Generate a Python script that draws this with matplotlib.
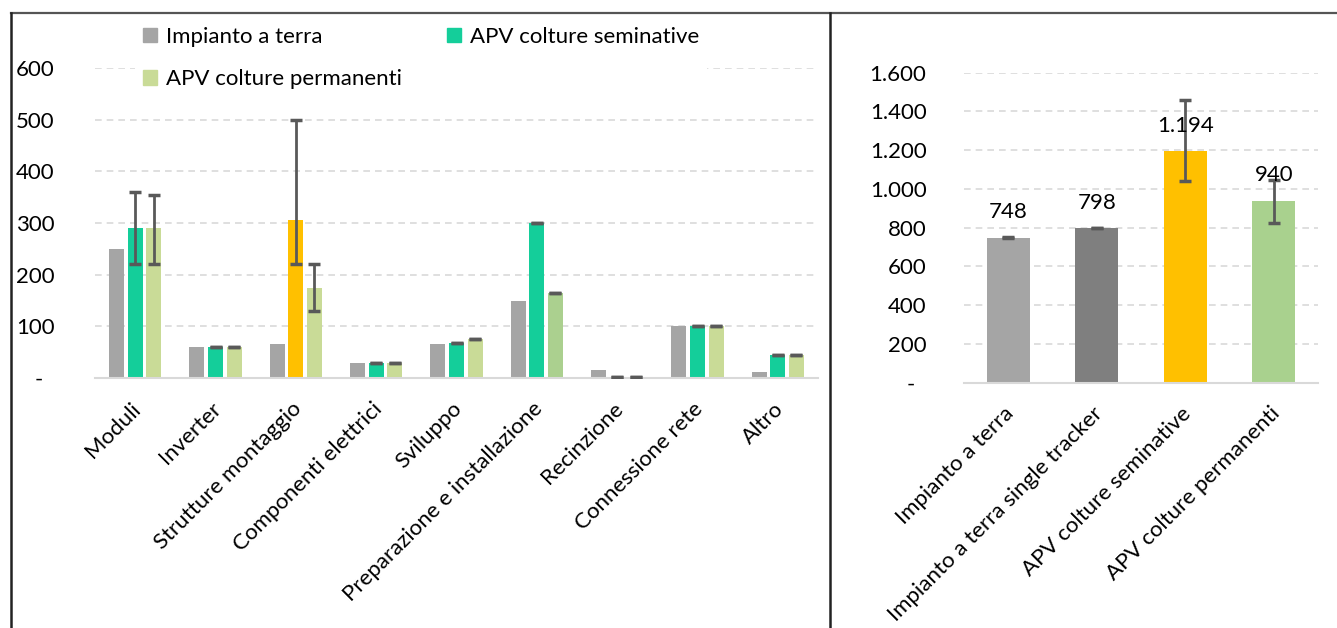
import matplotlib
matplotlib.use("Agg")
import matplotlib.pyplot as plt
import numpy as np
from matplotlib.lines import Line2D
from matplotlib.patches import Patch

# ---------------- data ----------------
categories = ["Moduli", "Inverter", "Strutture montaggio", "Componenti elettrici",
              "Sviluppo", "Preparazione e installazione", "Recinzione",
              "Connessione rete", "Altro"]
series_names = ["Impianto a terra", "APV colture seminative", "APV colture permanenti"]
terra = [250, 60, 65, 30, 65, 150, 15, 100, 12]
seminative = [290, 60, 305, 30, 67, 300, 2, 100, 45]
seminative_lo = [220, 60, 220, 30, 67, 300, 2, 100, 45]
seminative_hi = [360, 60, 500, 30, 67, 300, 2, 100, 45]
permanenti = [290, 60, 175, 30, 75, 165, 2, 100, 45]
permanenti_lo = [220, 60, 130, 30, 75, 165, 2, 100, 45]
permanenti_hi = [355, 60, 220, 30, 75, 165, 2, 100, 45]
left_yticks = [0, 100, 200, 300, 400, 500, 600]
left_yticklabels = ["-  ", "100", "200", "300", "400", "500", "600"]

tot_categories = ["Impianto a terra", "Impianto a terra single tracker",
                  "APV colture seminative", "APV colture permanenti"]
tot_values = [748, 798, 1194, 940]
tot_lo = [745, 796, 1040, 826]
tot_hi = [751, 800, 1458, 1044]
tot_labels = ["748", "798", "1.194", "940"]
right_yticks = [0, 200, 400, 600, 800, 1000, 1200, 1400, 1600]
right_yticklabels = ["-  ", "200", "400", "600", "800", "1.000", "1.200", "1.400", "1.600"]

# ---------------- style ----------------
FONT = "Lato"
plt.rcParams["font.family"] = [FONT, "DejaVu Sans"]
GRAY = "#A5A5A5"
DGRAY = "#7F7F7F"
GREEN = "#14CE9A"
LGREEN = "#C9DB97"
LGREEN2 = "#ABD08F"
ORANGE = "#FFC000"
PGREEN = "#A9D18E"
ERR = "#595959"
GRID = "#D9D9D9"
FS = 16

W, H = 1337, 628
fig = plt.figure(figsize=(W / 100, H / 100), dpi=100)


def px_axes(x0, y0, x1, y1):
    return fig.add_axes([x0 / W, 1 - y1 / H, (x1 - x0) / W, (y1 - y0) / H])


def style_axes(ax):
    for s in ["left", "right", "top"]:
        ax.spines[s].set_visible(False)
    ax.spines["bottom"].set_color(GRID)
    ax.spines["bottom"].set_linewidth(1.5)
    ax.yaxis.grid(True, color=GRID, linestyle=(0, (4, 3)), linewidth=1.2)
    ax.set_axisbelow(True)
    ax.tick_params(axis="both", length=0, labelsize=FS, colors="#000000")


# ---------------- left chart ----------------
ax1 = px_axes(95, 68, 818, 378)
style_axes(ax1)
x = np.arange(len(categories))
bw = 0.19
off = 0.232
sem_colors = [GREEN] * len(categories)
sem_colors[2] = ORANGE
perm_colors = [LGREEN] * len(categories)
perm_colors[5] = LGREEN2
ax1.bar(x - off, terra, bw, color=GRAY, zorder=2)
ax1.bar(x, seminative, bw, color=sem_colors, zorder=2)
ax1.bar(x + off, permanenti, bw, color=perm_colors, zorder=2)
sem_err = [np.array(seminative) - np.array(seminative_lo),
           np.array(seminative_hi) - np.array(seminative)]
perm_err = [np.array(permanenti) - np.array(permanenti_lo),
            np.array(permanenti_hi) - np.array(permanenti)]
ax1.errorbar(x, seminative, yerr=sem_err, fmt="none", ecolor=ERR,
             elinewidth=2, capsize=4.5, capthick=2.5, zorder=3)
ax1.errorbar(x + off, permanenti, yerr=perm_err, fmt="none", ecolor=ERR,
             elinewidth=2, capsize=4.5, capthick=2.5, zorder=3)
ax1.set_ylim(0, 600)
ax1.set_xlim(-0.5, len(categories) - 0.5)
ax1.set_yticks(left_yticks)
ax1.set_yticklabels(left_yticklabels)
ax1.tick_params(axis="y", pad=29)
ax1.set_xticks(x + 0.03)
ax1.set_xticklabels(categories, rotation=45, ha="right", va="center",
                    rotation_mode="anchor")
ax1.tick_params(axis="x", pad=20)

handles = [Patch(color=GRAY, label=series_names[0]),
           Patch(color=LGREEN, label=series_names[2]),
           Patch(color=GREEN, label=series_names[1])]
leg = ax1.legend(handles=handles, ncol=2, loc="upper left",
                 bbox_to_anchor=((135 - 95) / (818 - 95), 1 + (68 - 19) / 310),
                 frameon=True, fancybox=False, edgecolor="none", facecolor="white",
                 framealpha=1, fontsize=FS, handlelength=0.65, handleheight=0.65,
                 handletextpad=0.4, columnspacing=2.0, labelspacing=1.0,
                 borderpad=0.35, borderaxespad=0)
leg.set_zorder(5)

# ---------------- right chart ----------------
ax2 = px_axes(964, 72.7, 1318, 382.7)
style_axes(ax2)
x2 = np.arange(len(tot_categories))
ax2.bar(x2, tot_values, 0.49, color=[GRAY, DGRAY, ORANGE, PGREEN], zorder=2)
tot_err = [np.array(tot_values) - np.array(tot_lo),
           np.array(tot_hi) - np.array(tot_values)]
ax2.errorbar(x2, tot_values, yerr=tot_err, fmt="none", ecolor=ERR,
             elinewidth=2, capsize=4.5, capthick=2.5, zorder=3)
for xi, v, lab in zip(x2, tot_values, tot_labels):
    ax2.annotate(lab, (xi, v), xytext=(0, 11), textcoords="offset points",
                 ha="center", va="bottom", fontsize=FS, color="#000000", zorder=4)
ax2.set_ylim(0, 1600)
ax2.set_xlim(-0.5, len(tot_categories) - 0.5)
ax2.set_yticks(right_yticks)
ax2.set_yticklabels(right_yticklabels)
ax2.tick_params(axis="y", pad=27)
ax2.set_xticks(x2 + 0.03)
ax2.set_xticklabels(tot_categories, rotation=45, ha="right", va="center",
                    rotation_mode="anchor")
ax2.tick_params(axis="x", pad=20)

# ---------------- frame lines ----------------
fig.add_artist(Line2D([11 / W, 1], [1 - 12.7 / H] * 2, color="#555555", lw=1.6,
                      transform=fig.transFigure))
fig.add_artist(Line2D([11 / W] * 2, [0, 1 - 12.7 / H], color="#222222", lw=1.8,
                      transform=fig.transFigure))
fig.add_artist(Line2D([830 / W] * 2, [0, 1 - 12.7 / H], color="#222222", lw=1.8,
                      transform=fig.transFigure))

fig.savefig("out.png", dpi=100, facecolor="white")
